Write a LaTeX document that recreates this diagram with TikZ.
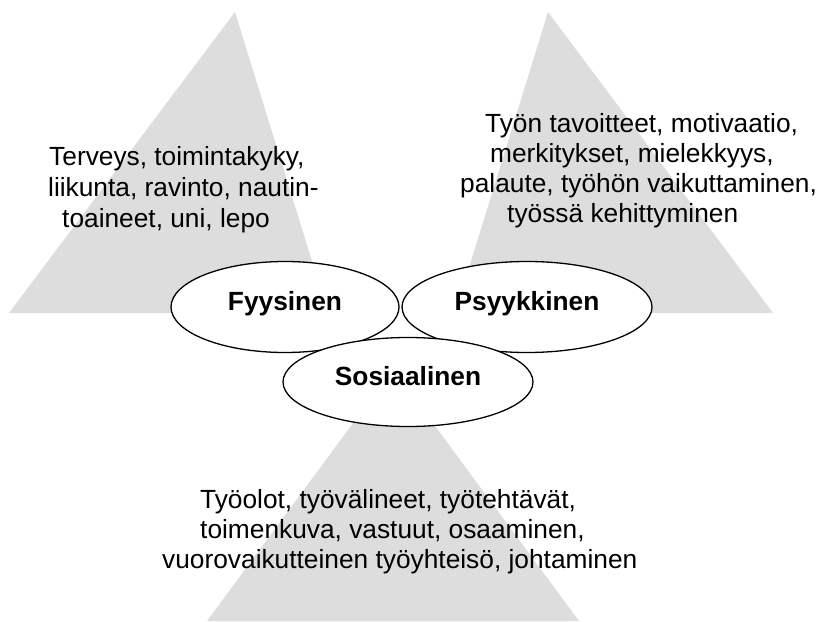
\documentclass[tikz,border=0pt]{standalone}
\usepackage{fontspec}
\setmainfont{Liberation Sans}
\usetikzlibrary{shapes.geometric}
\definecolor{trigray}{RGB}{221,221,221}
\tikzset{
  tri/.style={fill=trigray, draw=none},
  oval/.style={ellipse, draw=black, line width=1.3pt, fill=white, inner sep=0pt},
  lbl/.style={font=\fontsize{26.3}{30}\selectfont\bfseries, inner sep=0pt, anchor=base},
  txt/.style={font=\fontsize{26.3}{30}\selectfont, inner sep=0pt, anchor=base west}
}
\begin{document}
\begin{tikzpicture}[x=1pt,y=-1pt]
\useasboundingbox (0,0) rectangle (821,621);
% triangles
\fill[tri] (235,12) -- (9,313) -- (328,313) -- cycle;
\fill[tri] (548,12) -- (455,313) -- (773,313) -- cycle;
\fill[tri] (393,369) -- (207,621) -- (579,621) -- cycle;
% texts
\node[txt] (l1) at (49,165) {Terveys, toimintakyky,};
\node[txt] (l2) at (48,196) {liikunta, ravinto, nautin-};
\node[txt] (l3) at (62,227) {toaineet, uni, lepo};
\node[txt] (r1) at (485,132) {Työn tavoitteet, motivaatio,};
\node[txt] (r2) at (490,162) {merkitykset, mielekkyys,};
\node[txt] (r3) at (460,192) {palaute, työhön vaikuttaminen,};
\node[txt] (r4) at (507,222) {työssä kehittyminen};
\node[txt] (b1) at (200,508) {Työolot, työvälineet, työtehtävät,};
\node[txt] (b2) at (200,538) {toimenkuva, vastuut, osaaminen,};
\node[txt] (b3) at (162,568) {vuorovaikutteinen työyhteisö, johtaminen};
% ellipses
\node[oval, minimum width=228pt, minimum height=91pt] (fy) at (285,307) {};
\node[lbl] (fyt) at (285,310) {Fyysinen};
\node[oval, minimum width=250pt, minimum height=91pt] (ps) at (527,307) {};
\node[lbl] (pst) at (527,310) {Psyykkinen};
\node[oval, minimum width=250pt, minimum height=89pt] (so) at (408,382) {};
\node[lbl] (sot) at (408,385) {Sosiaalinen};
\end{tikzpicture}
\end{document}
